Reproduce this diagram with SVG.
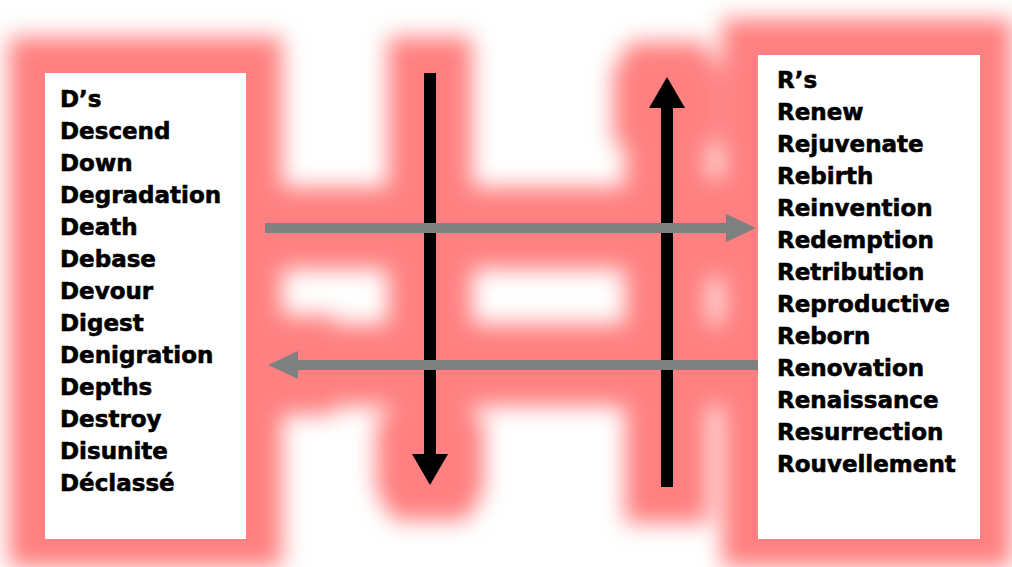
<svg xmlns="http://www.w3.org/2000/svg" xmlns:xlink="http://www.w3.org/1999/xlink" width="1012" height="567" viewBox="0 0 1012 567">
<defs>
<style>
.box{fill:#fff}
.lbl{font-family:"DejaVu Sans","Liberation Sans",sans-serif;font-weight:bold;font-size:23px;fill:#000;stroke:#000;stroke-width:0.6}
.blk{stroke:#000;stroke-width:12;fill:none}
.gry{stroke:#7f8080;stroke-width:10;fill:none}
</style>
<marker id="hb" markerUnits="userSpaceOnUse" markerWidth="31" markerHeight="36" refX="0" refY="18" orient="auto" viewBox="0 0 31 36"><path d="M0,0L31,18L0,36Z" fill="#000"/></marker>
<marker id="hg" markerUnits="userSpaceOnUse" markerWidth="30" markerHeight="28" refX="0" refY="14" orient="auto" viewBox="0 0 30 28"><path d="M0,0L30,14L0,28Z" fill="#7f8080"/></marker>
<filter id="glow" filterUnits="userSpaceOnUse" x="0" y="0" width="1012" height="567">
<feMorphology in="SourceAlpha" operator="dilate" radius="36" result="d"/>
<feGaussianBlur in="d" stdDeviation="11" result="b"/>
<feFlood flood-color="#ff8080"/>
<feComposite in2="b" operator="in"/>
</filter>
</defs>
<rect width="1012" height="567" fill="#fff"/>
<g id="halo" filter="url(#glow)">
<use href="#left-box" xlink:href="#left-box"/>
<use href="#right-box" xlink:href="#right-box"/>
<use href="#connectors" xlink:href="#connectors"/>
</g>
<g id="connectors">
<line class="blk" x1="430" y1="73" x2="430" y2="454" marker-end="url(#hb)"/>
<line class="blk" x1="667" y1="487" x2="667" y2="108" marker-end="url(#hb)"/>
<line class="gry" x1="265" y1="228" x2="726" y2="228" marker-end="url(#hg)"/>
<line class="gry" x1="758" y1="365" x2="298" y2="365" marker-end="url(#hg)"/>
</g>
<g id="left-box">
<rect class="box" x="45" y="73" width="201" height="466"/>
<text class="lbl" x="60" y="107">D’s</text>
<text class="lbl" x="60" y="139">Descend</text>
<text class="lbl" x="60" y="171">Down</text>
<text class="lbl" x="60" y="203">Degradation</text>
<text class="lbl" x="60" y="235">Death</text>
<text class="lbl" x="60" y="267">Debase</text>
<text class="lbl" x="60" y="299">Devour</text>
<text class="lbl" x="60" y="331">Digest</text>
<text class="lbl" x="60" y="363">Denigration</text>
<text class="lbl" x="60" y="395">Depths</text>
<text class="lbl" x="60" y="427">Destroy</text>
<text class="lbl" x="60" y="459">Disunite</text>
<text class="lbl" x="60" y="491">Déclassé</text>
</g>
<g id="right-box">
<rect class="box" x="758" y="55" width="222" height="484"/>
<text class="lbl" x="777" y="88">R’s</text>
<text class="lbl" x="777" y="120">Renew</text>
<text class="lbl" x="777" y="152">Rejuvenate</text>
<text class="lbl" x="777" y="184">Rebirth</text>
<text class="lbl" x="777" y="216">Reinvention</text>
<text class="lbl" x="777" y="248">Redemption</text>
<text class="lbl" x="777" y="280">Retribution</text>
<text class="lbl" x="777" y="312">Reproductive</text>
<text class="lbl" x="777" y="344">Reborn</text>
<text class="lbl" x="777" y="376">Renovation</text>
<text class="lbl" x="777" y="408">Renaissance</text>
<text class="lbl" x="777" y="440">Resurrection</text>
<text class="lbl" x="777" y="472">Rouvellement</text>
</g>
</svg>
